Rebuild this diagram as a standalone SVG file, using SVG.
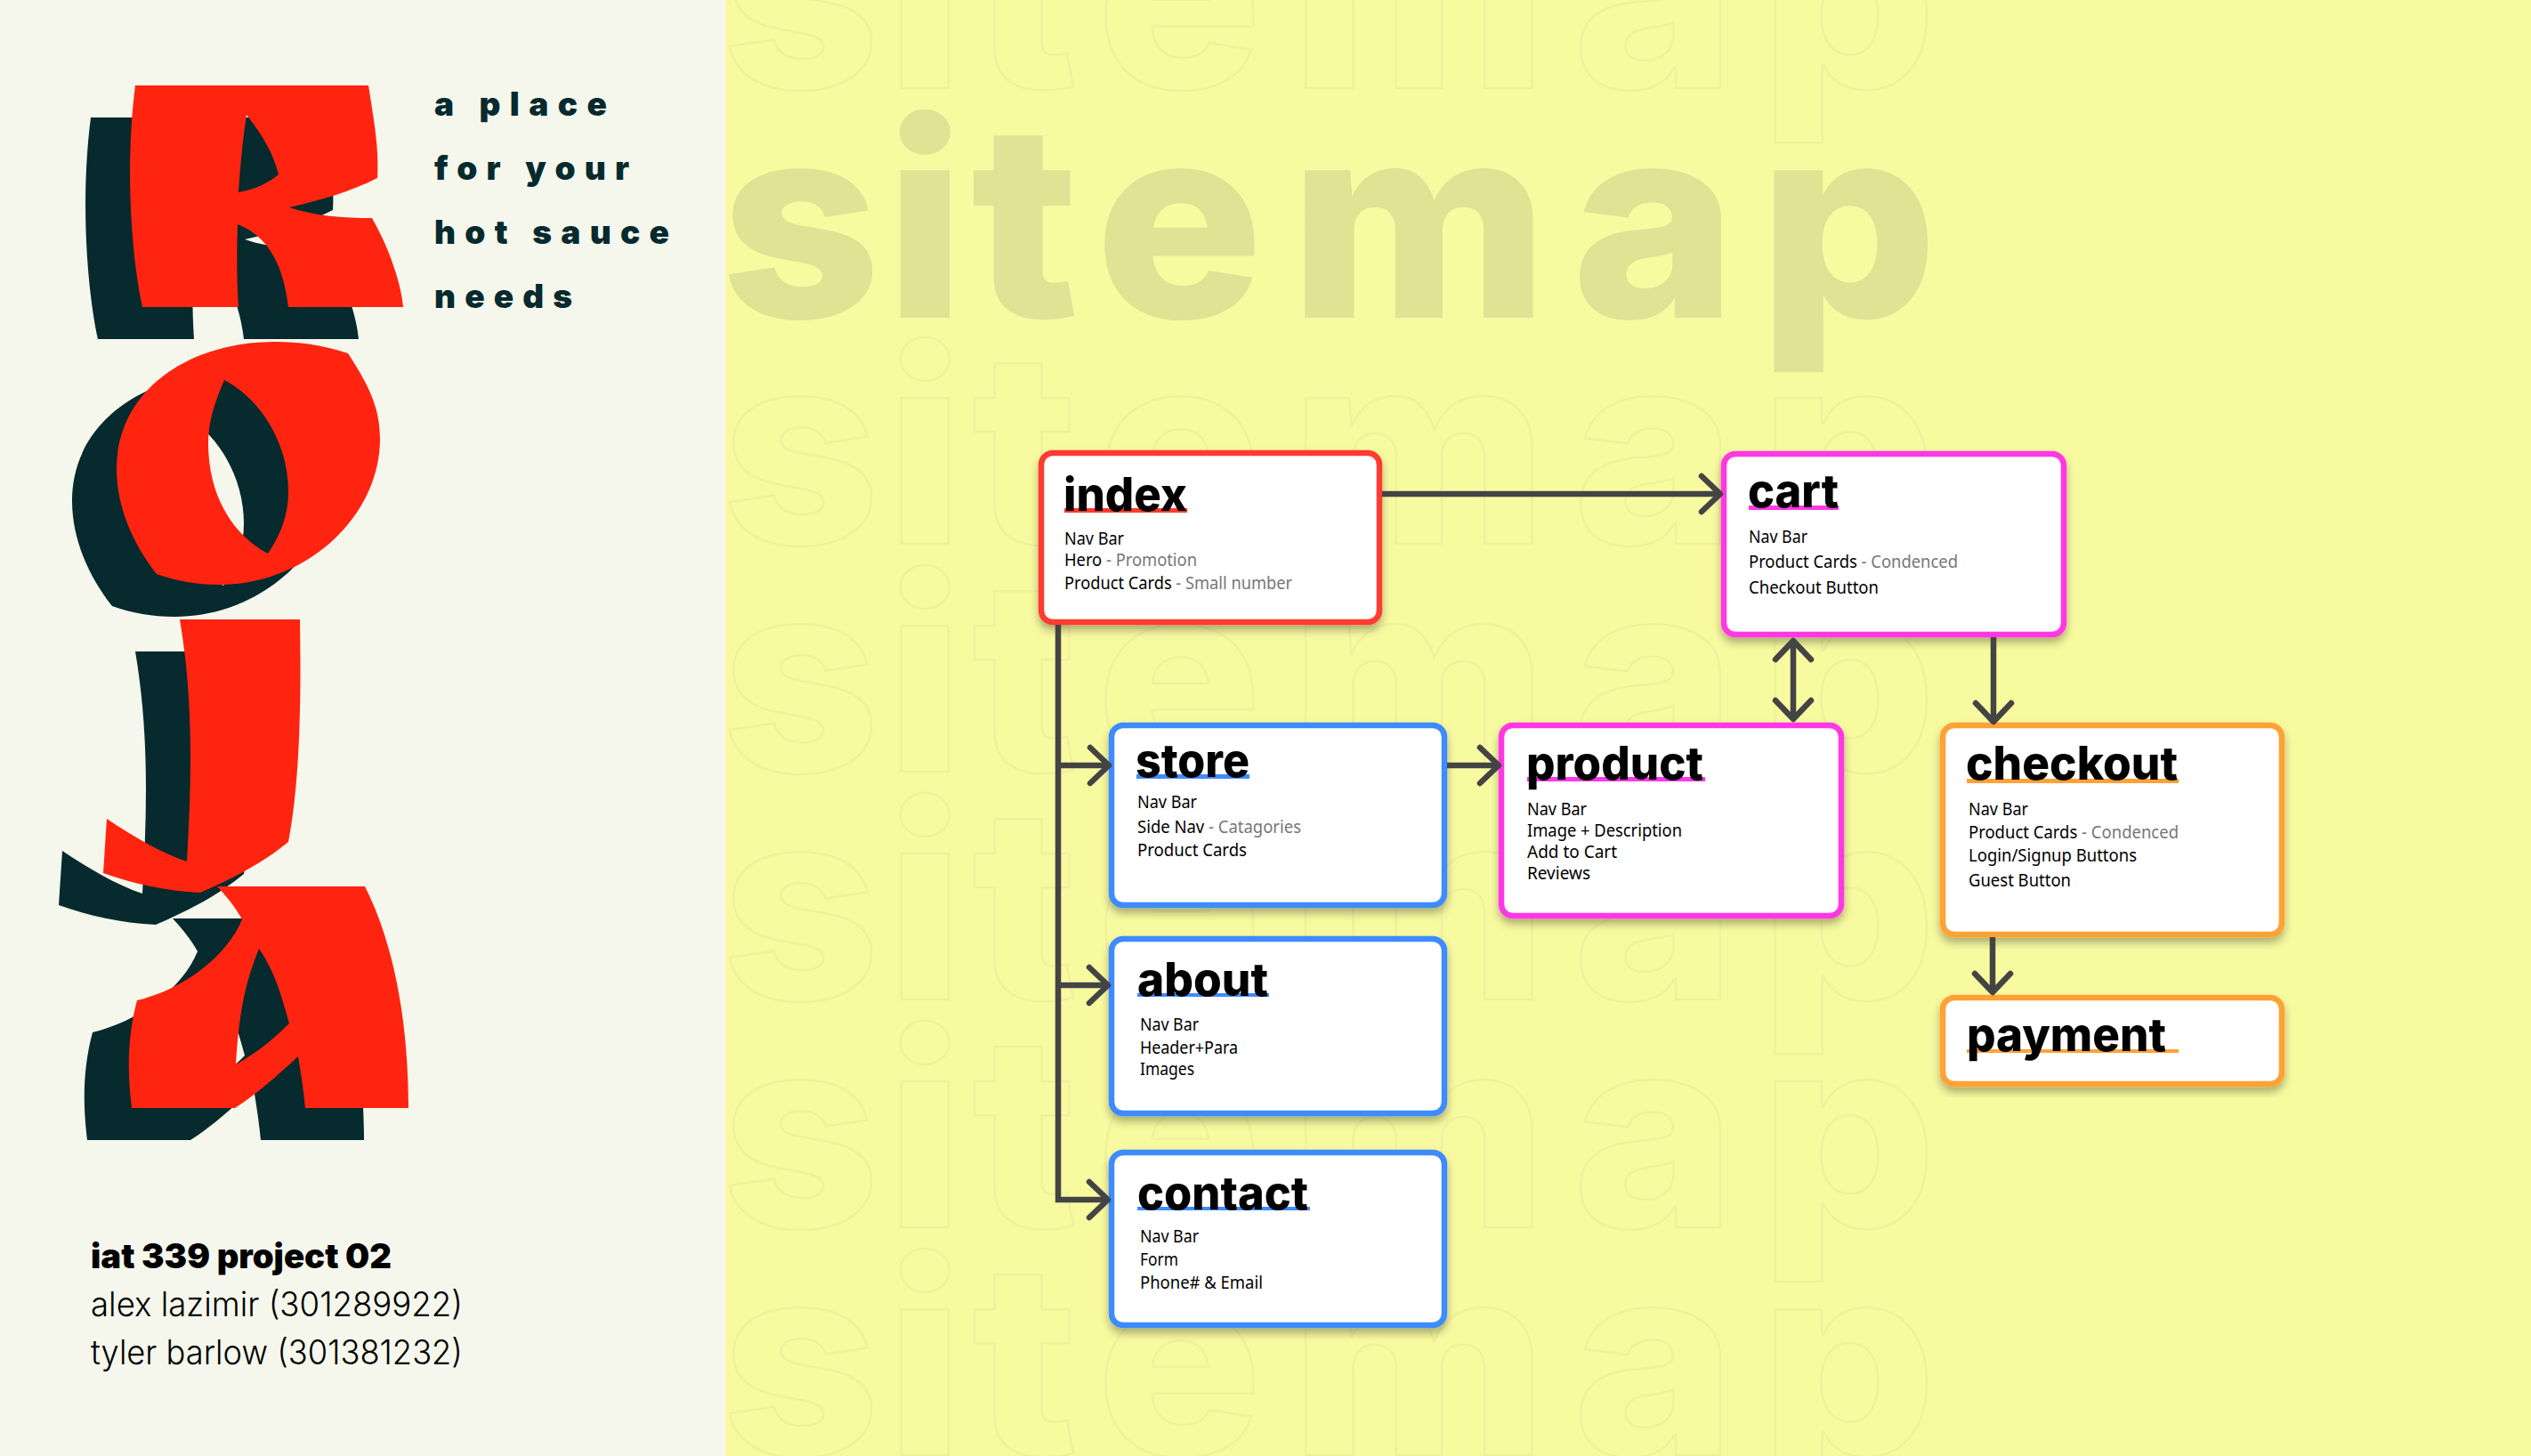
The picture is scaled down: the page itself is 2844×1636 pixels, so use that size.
<svg xmlns="http://www.w3.org/2000/svg" xmlns:xlink="http://www.w3.org/1999/xlink" width="2844" height="1636" viewBox="0 0 2844 1636">
<style>
.bgt{font-family:Inter,"Liberation Sans",sans-serif;font-weight:800;font-size:300px;}
.out{fill:none;stroke:#F0F19C;stroke-width:2.5;}
.tag{font-family:Inter,"Liberation Sans",sans-serif;font-weight:900;font-size:37px;fill:#062A2D;}
.ft{font-family:Inter,"Liberation Sans",sans-serif;font-size:38px;fill:#000;font-weight:300;}
.ftb{font-weight:900;}
.box{fill:#fff;stroke-width:6.5;filter:url(#sh);}
.red{stroke:#FF3B30;}.blue{stroke:#3E8BFF;}.pink{stroke:#FF38E6;}.orange{stroke:#FFA236;}
.ttl{font-family:Inter,"Liberation Sans",sans-serif;font-weight:800;font-size:52px;fill:#000;}
.b{font-family:"Noto Sans","Liberation Sans",sans-serif;font-weight:400;font-size:19px;fill:#000;}
.g{fill:#777;font-weight:400;}
.c{fill:none;stroke:#444;stroke-width:6.5;}
.h{fill:none;stroke:#444;stroke-width:6.5;stroke-linecap:round;stroke-linejoin:round;}
</style>
<defs>
<filter id="sh" x="-10%" y="-10%" width="120%" height="125%"><feDropShadow dx="0" dy="6" stdDeviation="5" flood-color="#000" flood-opacity=".3"/></filter>
<marker id="ah" markerUnits="userSpaceOnUse" markerWidth="60" markerHeight="60" viewBox="-40 -30 60 60" refX="0" refY="0" orient="auto-start-reverse"><path class="h" d="M-21,-20 L0,0 L-21,20"/></marker>
<path id="lR" fill-rule="evenodd" d="M152,96 L414,96 C420,135 426,165 424,200 C395,215 360,225 325,233 C355,243 385,245 418,245 C438,280 451,320 453,345 L324,345 C318,295 300,265 267,252 C266,285 266,315 268,345 L160,345 C148,290 140,190 152,96 Z M277,129 C273,155 270,185 268,216 C285,213 300,207 313,196 C307,172 295,152 277,129 Z"/>
<path id="lO" fill-rule="evenodd" d="M391,397 C360,387 335,384 309,384 C210,384 131,440 131,527 C131,570 150,612 176,645 C198,653 222,657 246,657 C345,657 427,580 427,493 C427,455 412,430 391,397 Z M252,427 C240,455 234,475 234,498 C234,555 260,600 301,622 C316,600 324,578 324,552 C324,500 295,450 252,427 Z"/>
<path id="lJ" d="M202,696 L337,696 C338,760 339,870 324,946 C295,970 260,988 225,1003 C185,1001 150,993 116,981 L120,920 C150,940 180,958 210,968 C215,880 218,790 202,696 Z"/>
<path id="lA" fill-rule="evenodd" d="M244,996 L410,996 C440,1055 459,1140 459,1245 L343,1245 C341,1225 338,1205 335,1187 C312,1208 288,1230 264,1245 L148,1245 C143,1205 143,1165 154,1124 C205,1112 255,1075 272,1033 C265,1020 255,1008 244,996 Z M291,1066 C278,1098 269,1130 265,1196 C285,1185 305,1170 325,1150 C318,1125 310,1093 291,1066 Z"/>
</defs>
<rect width="2844" height="1636" fill="#F8FAA0"/>
<g id="bg-text">
<g class="bgt" transform="scale(1.04,1)">
<text class="out" x="779 957 1050 1184 1394 1699 1901" y="99">sitemap</text>
<text x="779 957 1050 1184 1394 1699 1901" y="356" fill="#E0E294" stroke="#E0E294" stroke-width="2">sitemap</text>
<text class="out" x="779 957 1050 1184 1394 1699 1901" y="611">sitemap</text>
<text class="out" x="779 957 1050 1184 1394 1699 1901" y="867">sitemap</text>
<text class="out" x="779 957 1050 1184 1394 1699 1901" y="1123">sitemap</text>
<text class="out" x="779 957 1050 1184 1394 1699 1901" y="1379">sitemap</text>
<text class="out" x="779 957 1050 1184 1394 1699 1901" y="1635">sitemap</text>
</g>
</g>
<rect id="panel" width="815" height="1636" fill="#F5F7EC"/>
<g id="logo">
<g fill="#062A2D" transform="translate(-50,36)"><use href="#lR"/><use href="#lO"/><use href="#lJ"/><use href="#lA"/></g>
<g fill="#FF2410"><use href="#lR"/><use href="#lO"/><use href="#lJ"/><use href="#lA"/></g>
</g>
<g id="tagline" class="tag">
<text x="488" y="130" textLength="194">a place</text>
<text x="488" y="202" textLength="219">for your</text>
<text x="488" y="274" textLength="264">hot sauce</text>
<text x="488" y="346" textLength="155">needs</text>
</g>
<g id="credits" class="ft">
<text class="ftb" x="102" y="1425" textLength="338" lengthAdjust="spacingAndGlyphs">iat 339 project 02</text>
<text x="102" y="1479" textLength="418" lengthAdjust="spacingAndGlyphs">alex lazimir (301289922)</text>
<text x="102" y="1533" textLength="418" lengthAdjust="spacingAndGlyphs">tyler barlow (301381232)</text>
</g>
<g id="node-index">
<rect class="box red" x="1170" y="509" width="380" height="190" rx="13"/>
<rect x="1196" y="571" width="138" height="5" fill="#FF3B30"/>
<text class="ttl" x="1195" y="574" textLength="139" lengthAdjust="spacingAndGlyphs">index</text>
<text class="b" x="1196" y="612" textLength="67" lengthAdjust="spacingAndGlyphs">Nav Bar</text>
<text class="b" x="1196" y="636" textLength="149" lengthAdjust="spacingAndGlyphs">Hero <tspan class="g">- Promotion</tspan></text>
<text class="b" x="1196" y="662" textLength="256" lengthAdjust="spacingAndGlyphs">Product Cards <tspan class="g">- Small number</tspan></text>
</g>
<g id="node-cart">
<rect class="box pink" x="1937" y="510" width="382" height="203" rx="13"/>
<rect x="1965" y="568" width="101" height="5" fill="#FF38E6"/>
<text class="ttl" x="1964" y="570" textLength="102" lengthAdjust="spacingAndGlyphs">cart</text>
<text class="b" x="1965" y="610" textLength="66" lengthAdjust="spacingAndGlyphs">Nav Bar</text>
<text class="b" x="1965" y="638" textLength="235" lengthAdjust="spacingAndGlyphs">Product Cards <tspan class="g">- Condenced</tspan></text>
<text class="b" x="1965" y="667" textLength="146" lengthAdjust="spacingAndGlyphs">Checkout Button</text>
</g>
<g id="node-store">
<rect class="box blue" x="1249" y="815" width="374" height="202" rx="13"/>
<rect x="1277" y="870" width="127" height="5" fill="#3E8BFF"/>
<text class="ttl" x="1276" y="873" textLength="128" lengthAdjust="spacingAndGlyphs">store</text>
<text class="b" x="1278" y="908" textLength="67" lengthAdjust="spacingAndGlyphs">Nav Bar</text>
<text class="b" x="1278" y="936" textLength="184" lengthAdjust="spacingAndGlyphs">Side Nav <tspan class="g">- Catagories</tspan></text>
<text class="b" x="1278" y="962" textLength="123" lengthAdjust="spacingAndGlyphs">Product Cards</text>
</g>
<g id="node-product">
<rect class="box pink" x="1687" y="815" width="382" height="214" rx="13"/>
<rect x="1716" y="873" width="200" height="5" fill="#FF38E6"/>
<text class="ttl" x="1715" y="876" textLength="199" lengthAdjust="spacingAndGlyphs">product</text>
<text class="b" x="1716" y="916" textLength="67" lengthAdjust="spacingAndGlyphs">Nav Bar</text>
<text class="b" x="1716" y="940" textLength="174" lengthAdjust="spacingAndGlyphs">Image + Description</text>
<text class="b" x="1716" y="964" textLength="101" lengthAdjust="spacingAndGlyphs">Add to Cart</text>
<text class="b" x="1716" y="988" textLength="71" lengthAdjust="spacingAndGlyphs">Reviews</text>
</g>
<g id="node-checkout">
<rect class="box orange" x="2183" y="815" width="381" height="235" rx="13"/>
<rect x="2210" y="875" width="238" height="5" fill="#FFA236"/>
<text class="ttl" x="2209" y="876" textLength="238" lengthAdjust="spacingAndGlyphs">checkout</text>
<text class="b" x="2212" y="916" textLength="67" lengthAdjust="spacingAndGlyphs">Nav Bar</text>
<text class="b" x="2212" y="942" textLength="236" lengthAdjust="spacingAndGlyphs">Product Cards <tspan class="g">- Condenced</tspan></text>
<text class="b" x="2212" y="968" textLength="189" lengthAdjust="spacingAndGlyphs">Login/Signup Buttons</text>
<text class="b" x="2212" y="996" textLength="115" lengthAdjust="spacingAndGlyphs">Guest Button</text>
</g>
<g id="node-payment">
<rect class="box orange" x="2183" y="1121" width="381" height="97" rx="13"/>
<rect x="2210" y="1179" width="238" height="4" fill="#FFA236"/>
<text class="ttl" x="2210" y="1181" textLength="224" lengthAdjust="spacingAndGlyphs">payment</text>
</g>
<g id="node-about">
<rect class="box blue" x="1249" y="1055" width="374" height="196" rx="13"/>
<rect x="1278" y="1116" width="148" height="4" fill="#3E8BFF"/>
<text class="ttl" x="1278" y="1119" textLength="147" lengthAdjust="spacingAndGlyphs">about</text>
<text class="b" x="1281" y="1158" textLength="66" lengthAdjust="spacingAndGlyphs">Nav Bar</text>
<text class="b" x="1281" y="1184" textLength="110" lengthAdjust="spacingAndGlyphs">Header+Para</text>
<text class="b" x="1281" y="1208" textLength="61" lengthAdjust="spacingAndGlyphs">Images</text>
</g>
<g id="node-contact">
<rect class="box blue" x="1249" y="1295" width="374" height="194" rx="13"/>
<rect x="1278" y="1356" width="194" height="4" fill="#3E8BFF"/>
<text class="ttl" x="1278" y="1359" textLength="192" lengthAdjust="spacingAndGlyphs">contact</text>
<text class="b" x="1281" y="1396" textLength="66" lengthAdjust="spacingAndGlyphs">Nav Bar</text>
<text class="b" x="1281" y="1422" textLength="43" lengthAdjust="spacingAndGlyphs">Form</text>
<text class="b" x="1281" y="1448" textLength="138" lengthAdjust="spacingAndGlyphs">Phone# &amp; Email</text>
</g>
<g id="connectors">
<path class="c" marker-end="url(#ah)" d="M1553,555 H1933"/>
<path class="c" marker-end="url(#ah)" d="M1189,702 V1348 H1245"/>
<path class="c" marker-end="url(#ah)" d="M1189,860 H1246"/>
<path class="c" marker-end="url(#ah)" d="M1189,1107 H1245"/>
<path class="c" marker-end="url(#ah)" d="M1626,860 H1684"/>
<path class="c" marker-start="url(#ah)" marker-end="url(#ah)" d="M2015,720 V808"/>
<path class="c" marker-end="url(#ah)" d="M2240,716 V811"/>
<path class="c" marker-end="url(#ah)" d="M2239,1053 V1115"/>
</g>
</svg>
